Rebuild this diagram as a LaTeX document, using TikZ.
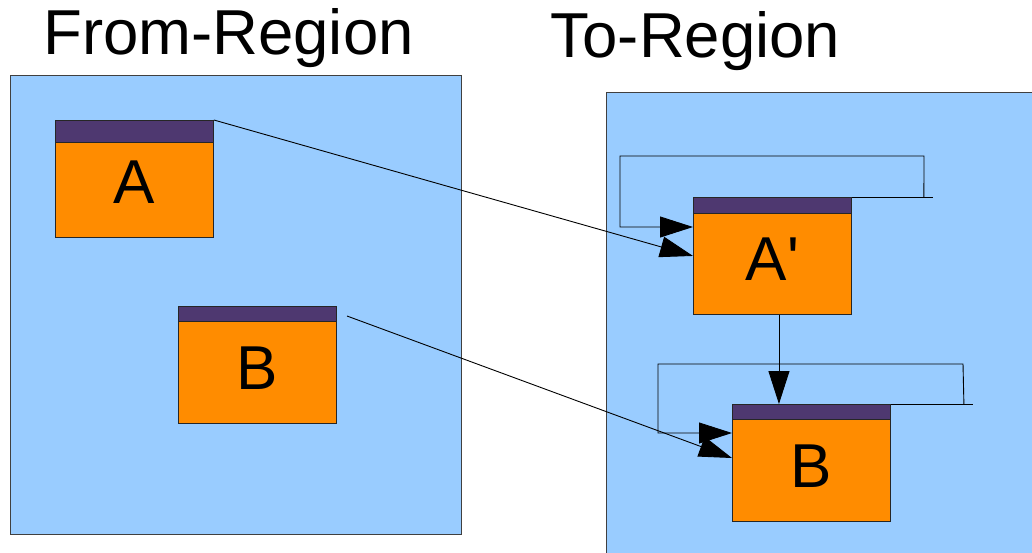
\documentclass[tikz,border=0pt]{standalone}
\usepackage{fontspec}
\setmainfont{Liberation Sans}
% label face without the TeX quote mapping, so ' stays a straight quote
\newfontfamily\boxfont{Liberation Sans}[Ligatures=ResetAll]
\usetikzlibrary{arrows.meta,calc}

\definecolor{regionblue}{HTML}{99CCFF}
\definecolor{boxorange}{HTML}{FF8C00}
\definecolor{hdrpurple}{HTML}{4E3870}

\begin{document}
\begin{tikzpicture}[x=1pt,y=-1pt,
  regionbox/.style={draw=black!75, fill=regionblue, line width=0.9pt},
  block/.style={draw=black!85, fill=boxorange, line width=0.9pt,
    minimum width=158pt, minimum height=117pt, inner sep=0pt,
    anchor=north west},
  header/.style={path picture={
    \fill[hdrpurple] (path picture bounding box.north west)
      rectangle ([yshift=-#1]path picture bounding box.north east);
    \draw[line width=0.9pt, black!85]
      ([yshift=-#1]path picture bounding box.north west)
      -- ([yshift=-#1]path picture bounding box.north east);}},
  boxlabel/.style={anchor=base, inner sep=0pt, font=\boxfont\fontsize{62}{62}\selectfont},
  title/.style={anchor=base, inner sep=0pt, font=\fontsize{63.5}{63.5}\selectfont},
  wire/.style={line width=0.9pt, black},
  link/.style={wire, -{Triangle[length=33pt,width=21pt]}},
]
\useasboundingbox (0,0) rectangle (1032,552);
\clip (0,0) rectangle (1032,552);
\fill[white] (0,0) rectangle (1032,552);

% titles
\node[title] (fromtitle) at (228.5,54) {From-Region};
\node[title] (totitle) at (695.5,57) {To-Region};

% regions
\draw[regionbox] (10,75) rectangle (461,534);
\draw[regionbox] (606,92) rectangle (1045,570);

% blocks in the source region
\node[block, header=22pt] (A) at (55,120) {};
\node[block, header=15pt] (B) at (178,306) {};
% blocks in the target region
\node[block, header=16pt] (Ap) at (693,197) {};
\node[block, header=15pt] (Bp) at (732,404) {};

\node[boxlabel] (Alabel) at ($(A.north)+(0,83)$) {A};
\node[boxlabel] (Blabel) at ($(B.north)+(0,83)$) {B};
\node[boxlabel] (Aplabel) at ($(Ap.north)+(0,83)$) {A'};
\node[boxlabel] (Bplabel) at ($(Bp.north)+(0,83)$) {B};

% mapping from source to target
\draw[link] (A.north east) -- (Ap.west);
\coordinate (bstart) at (347,316);
\draw[link] (bstart) -- ($(Bp.north west)+(0,54)$);

% self loop on A'
\draw[wire] (Ap.north east) -- ++(81,0);
\coordinate (aloopr) at (924,156);
\coordinate (aloopl) at (620,156);
\draw[link] ($(Ap.north east)+(72,0)$) -- (aloopr) -- (aloopl)
  |- ($(Ap.north west)+(0,30)$);

% A' to B'
\draw[link] ([xshift=6.5pt]Ap.south) -- ([xshift=6.5pt]Ap.south |- Bp.north);

% self loop on B'
\draw[wire] (Bp.north east) -- ++(82,0);
\coordinate (bloopr) at (963,364);
\coordinate (bloopl) at (658,364);
\draw[link] ($(Bp.north east)+(73,0)$) -- (bloopr) -- (bloopl)
  |- ($(Bp.north west)+(0,29)$);
\end{tikzpicture}
\end{document}
